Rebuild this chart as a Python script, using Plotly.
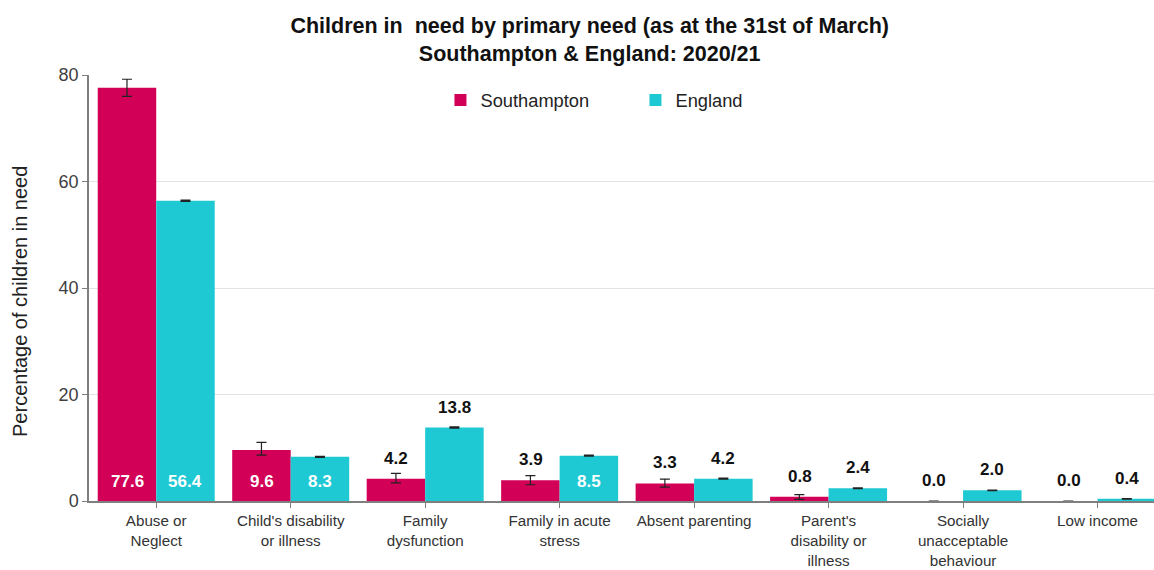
import plotly.graph_objects as go

categories = ["Abuse or<br>Neglect", "Child's disability<br>or illness", "Family<br>dysfunction",
              "Family in acute<br>stress", "Absent parenting", "Parent's<br>disability or<br>illness",
              "Socially<br>unacceptable<br>behaviour", "Low income"]
southampton = [77.6, 9.6, 4.2, 3.9, 3.3, 0.8, 0.0, 0.0]
south_err_plus = [1.6, 1.4, 1.0, 0.85, 0.8, 0.4, None, None]
south_err_minus = [1.6, 1.0, 0.8, 0.85, 0.7, 0.5, None, None]
england = [56.4, 8.3, 13.8, 8.5, 4.2, 2.4, 2.0, 0.4]
eng_err = [0.12, 0.1, 0.12, 0.1, 0.08, 0.07, 0.07, 0.05]
# label placement: True = inside the bar at its base, False = above the bar
south_inside = [True, True, False, False, False, False, False, False]
eng_inside = [True, True, False, True, False, False, False, False]

RED = "#D20057"
CYAN = "#1FC9D3"
FONT = "Liberation Sans, Arial, sans-serif"

xs = list(range(len(categories)))

fig = go.Figure()
fig.add_trace(go.Bar(
    name="Southampton", x=xs, y=southampton, marker_color=RED, marker_line_width=0,
    error_y=dict(type="data", symmetric=False, array=south_err_plus, arrayminus=south_err_minus,
                 color="#222222", thickness=1.2, width=5),
))
fig.add_trace(go.Bar(
    name="England", x=xs, y=england, marker_color=CYAN, marker_line_width=0,
    error_y=dict(type="data", array=eng_err, color="#222222", thickness=1.2, width=5),
))

BAR_OFFSET = 29
annotations = []
for vals, inside, shift in ((southampton, south_inside, -BAR_OFFSET), (england, eng_inside, BAR_OFFSET)):
    for i, (v, ins) in enumerate(zip(vals, inside)):
        if ins:
            annotations.append(dict(x=i, y=0, xref="x", yref="y", text=f"{v:.1f}", showarrow=False,
                                    xshift=shift, yshift=8, yanchor="bottom",
                                    font=dict(family=FONT, size=17, color="white", weight="bold")))
        else:
            annotations.append(dict(x=i, y=v, xref="x", yref="y", text=f"{v:.1f}", showarrow=False,
                                    xshift=shift, yshift=9, yanchor="bottom",
                                    font=dict(family=FONT, size=17, color="#111111", weight="bold")))

annotations.append(dict(text="Percentage of children in need", xref="paper", yref="paper",
                        x=-0.0648, y=0.4695, xanchor="center", yanchor="middle", textangle=-90,
                        showarrow=False, font=dict(family=FONT, size=20, color="#222222")))

fig.update_layout(
    width=1154, height=570,
    paper_bgcolor="white", plot_bgcolor="white",
    margin=dict(l=89, r=0, t=75, b=69),
    barmode="group", bargap=0.13, bargroupgap=0,
    font=dict(family=FONT, size=16, color="#333333"),
    title=dict(text="<b>Children in  need by primary need (as at the 31st of March)<br>Southampton & England: 2020/21</b>",
               x=0.511, xanchor="center", xref="container", y=0.942, yanchor="top",
               font=dict(family=FONT, size=21.5, color="#111111")),
    legend=dict(orientation="h", x=0.33, xanchor="left", y=0.941, yanchor="middle",
                entrywidth=150, entrywidthmode="pixels", font=dict(size=18.3, color="#222222"),
                traceorder="normal", bgcolor="rgba(0,0,0,0)"),
    annotations=annotations,
    showlegend=True,
)
fig.update_xaxes(
    tickmode="array", tickvals=xs, ticktext=categories, range=[-0.5, 7.42],
    showline=True, linecolor="#7f7f7f", linewidth=1.5, automargin=False,
    ticks="outside", tickson="boundaries", ticklen=5, tickcolor="#7f7f7f",
    tickfont=dict(size=15.2, color="#333333"), showgrid=False, ticklabelstandoff=0,
)
fig.update_yaxes(
    range=[0, 80], tickvals=[0, 20, 40, 60, 80], automargin=False,
    showline=True, linecolor="#7f7f7f", linewidth=1.5,
    ticks="outside", ticklen=5, tickcolor="#7f7f7f",
    showgrid=True, gridcolor="#e3e3e3", gridwidth=1, zeroline=False,
    tickfont=dict(size=18, color="#404040"),
)

fig.write_html("out.html", post_script="document.body.style.margin='0';",
               config={"displayModeBar": False})
